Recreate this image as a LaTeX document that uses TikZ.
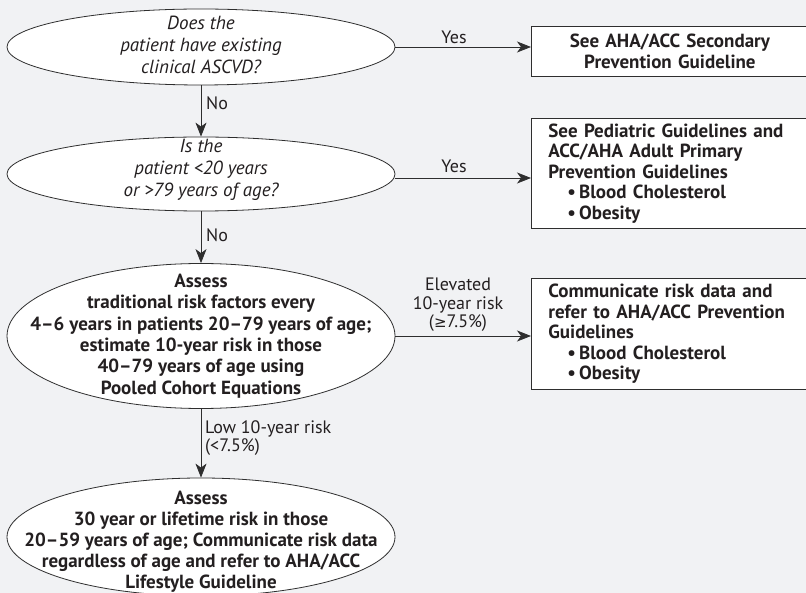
\documentclass[tikz,border=0pt]{standalone}
\usepackage{fontspec}
\setmainfont{PT Sans}
\newfontfamily\symbolfont{DejaVu Sans}
\usetikzlibrary{arrows.meta,shapes.geometric}

\definecolor{bgcolor}{HTML}{F1F2F4}
\definecolor{linecolor}{HTML}{2E2E2E}
\definecolor{inkcolor}{HTML}{231F20}

\begin{document}
\begin{tikzpicture}[x=1pt, y=-1pt,
    question/.style={ellipse, draw=linecolor, fill=white, line width=0.8pt, inner sep=0pt},
    qtext/.style={align=center, text=inkcolor},
    guide/.style={draw=linecolor, fill=white, line width=0.8pt, anchor=north west,
        minimum width=277pt, inner xsep=17pt, text width=243pt, text=inkcolor,
        font=\bfseries\fontsize{19}{20.5}\selectfont},
    answer/.style={text=inkcolor, font=\fontsize{18}{18.5}\selectfont, inner sep=0pt},
    flow/.style={draw=linecolor, line width=0.8pt, -{Stealth[length=14pt, width=11pt, inset=4pt]}}
    ]
    % Define page and background
    \useasboundingbox (0,0) rectangle (806,593);
    \fill[bgcolor] (0,0) rectangle (806,593);
    \clip (0,0) rectangle (806,593);

    % Draw questions
    \node[question, minimum width=388pt, minimum height=76pt] (q1) at (201,47) {};
    \node[qtext, font=\itshape\fontsize{19}{22}\selectfont] (q1text) at (201,45)
        {Does the\\patient have existing\\clinical ASCVD?};
    \node[question, minimum width=388pt, minimum height=74pt] (q2) at (201,174) {};
    \node[qtext, font=\itshape\fontsize{19}{22}\selectfont] (q2text) at (201,170)
        {Is the\\patient <20 years\\or >79 years of age?};
    \node[question, minimum width=388pt, minimum height=145pt] (q3) at (201,336) {};
    \node[qtext, font=\bfseries\fontsize{19}{21.4}\selectfont] (q3text) at (201,336)
        {Assess\\traditional risk factors every\\4–6 years in patients 20–79 years of age;\\estimate 10-year risk in those\\40–79 years of age using\\Pooled Cohort Equations};
    \node[question, minimum width=388pt, minimum height=118pt] (q4) at (201,537) {};
    \node[qtext, font=\bfseries\fontsize{19}{21}\selectfont] (q4text) at (201,542)
        {Assess\\30 year or lifetime risk in those\\20–59 years of age; Communicate risk data\\regardless of age and refer to AHA/ACC\\Lifestyle Guideline};

    % Draw guideline boxes
    \node[guide, minimum height=50pt, align=center] (b1) at (531,26)
        {See AHA/ACC Secondary\\Prevention Guideline};
    \node[guide, minimum height=110pt, align=left] (b2) at (531,118)
        {See Pediatric Guidelines and\\ACC/AHA Adult Primary\\Prevention Guidelines\\
         \hspace*{19pt}\textbullet\,Blood Cholesterol\\\hspace*{19pt}\textbullet\,Obesity};
    \node[guide, minimum height=111pt, align=left] (b3) at (531,278)
        {Communicate risk data and\\refer to AHA/ACC Prevention\\Guidelines\\
         \hspace*{19pt}\textbullet\,Blood Cholesterol\\\hspace*{19pt}\textbullet\,Obesity};

    % Draw arrows
    \draw[flow] (q1.south) -- (q2.north);
    \draw[flow] (q2.south) -- (q3.north);
    \draw[flow] (q3.south) -- (q4.north);
    \draw[flow] (q1.east) -- (q1.east -| b1.west);
    \draw[flow] ([yshift=-4pt]q2.east) -- ([yshift=-4pt]q2.east -| b2.west);
    \draw[flow] (q3.east) -- (q3.east -| b3.west);

    % Answer labels
    \node[answer, anchor=west] (no1) at (206,103) {No};
    \node[answer, anchor=west] (no2) at (206,235) {No};
    \node[answer] (yes1) at (454,37) {Yes};
    \node[answer] (yes2) at (454,166) {Yes};
    \node[answer, align=center] (high) at (458,305)
        {Elevated\\10-year risk\\({\symbolfont\fontsize{15}{18.5}\selectfont ≥}7.5\%)};
    \node[answer, align=left, anchor=west] (low) at (205,438) {Low 10-year risk\\(<7.5\%)};
\end{tikzpicture}
\end{document}
